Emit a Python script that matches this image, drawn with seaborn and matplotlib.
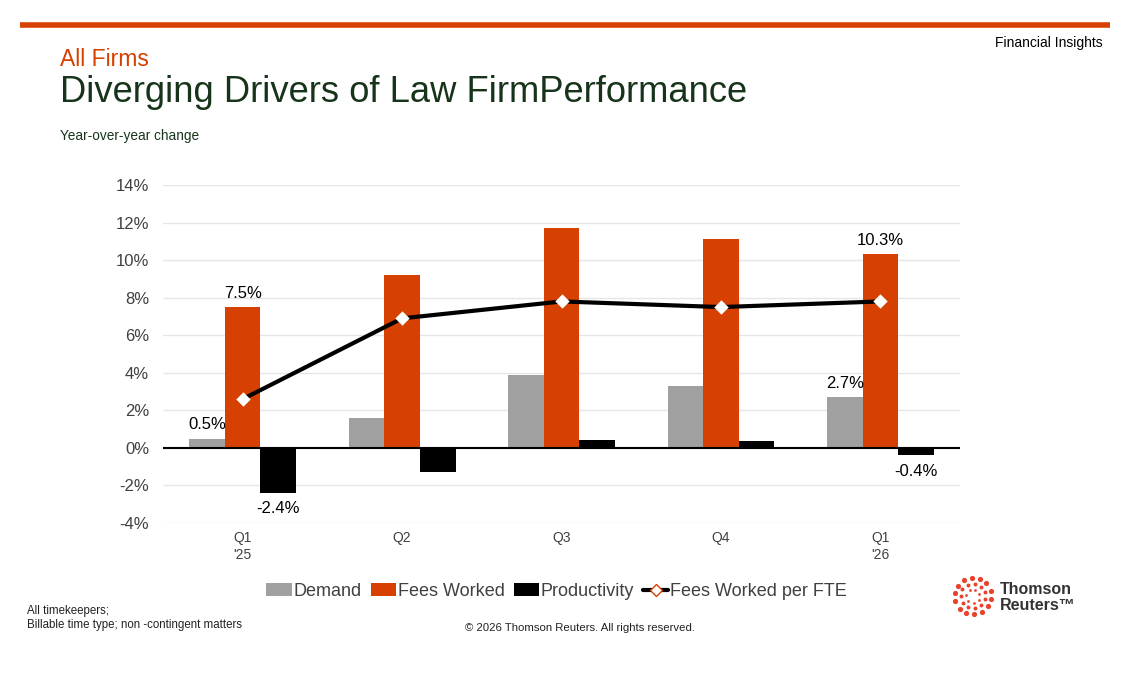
import pandas as pd
import numpy as np
import matplotlib.pyplot as plt
import seaborn as sns
from matplotlib.patches import Patch
from matplotlib.lines import Line2D
from matplotlib.ticker import FuncFormatter

quarters = ["Q1\n'25", "Q2", "Q3", "Q4", "Q1\n'26"]
demand = [0.5, 1.6, 3.9, 3.3, 2.7]
fees_worked = [7.5, 9.2, 11.7, 11.1, 10.3]
productivity = [-2.4, -1.3, 0.4, 0.35, -0.4]
fees_per_fte = [2.6, 6.9, 7.8, 7.5, 7.8]
series = ["Demand", "Fees Worked", "Productivity"]

orange = "#D64000"
gray = "#A0A0A0"
dark = "#17341A"
txt = "#404040"

df = pd.DataFrame({
    "quarter": quarters * 3,
    "series": np.repeat(series, len(quarters)),
    "value": demand + fees_worked + productivity,
})

sns.set_theme(style="white")
plt.rcParams["font.family"] = ["Liberation Sans", "DejaVu Sans"]

fig = plt.figure(figsize=(11.27, 6.76), dpi=100)
ax = fig.add_axes([0.1446, 0.2263, 0.7074, 0.5])

sns.barplot(data=df, x="quarter", y="value", hue="series",
            palette=[gray, orange, "black"], width=0.67, gap=0,
            ax=ax, legend=False, saturation=1, linewidth=0)
sns.pointplot(x=quarters, y=fees_per_fte, color="black", markers="D",
              linestyles="-", ax=ax, markerfacecolor="white",
              markeredgecolor="white", markersize=5, linewidth=3)

ax.set_xlim(-0.5, 4.5)
ax.set_ylim(-4, 14)
ax.set_yticks(range(-4, 15, 2))
ax.yaxis.set_major_formatter(FuncFormatter(lambda v, p: f"{v:.0f}%"))
ax.grid(axis="y", color="#E6E6E6", linewidth=1)
ax.set_axisbelow(True)
ax.axhline(0, color="black", linewidth=1.5, zorder=3)
for s in ax.spines.values():
    s.set_visible(False)
ax.tick_params(axis="both", length=0, colors=txt)
ax.tick_params(axis="y", labelsize=12, pad=10)
ax.tick_params(axis="x", labelsize=10, pad=6)
ax.set_xlabel("")
ax.set_ylabel("")

# data labels
bw = 0.67 / 3
labels = [
    (0 - bw, demand[0], f"{demand[0]}%", "bottom"),
    (0, fees_worked[0], f"{fees_worked[0]}%", "bottom"),
    (0 + bw, productivity[0], f"{productivity[0]}%", "top"),
    (4 - bw, demand[4], f"{demand[4]}%", "bottom"),
    (4, fees_worked[4], f"{fees_worked[4]}%", "bottom"),
    (4 + bw, productivity[4], f"{productivity[4]}%", "top"),
]
for x, y, t, va in labels:
    off = 0.35 if va == "bottom" else -0.45
    ax.text(x, y + off, t, ha="center", va=va, fontsize=12, color="black")

# legend
handles = [
    Patch(facecolor=gray, edgecolor="none"),
    Patch(facecolor=orange, edgecolor="none"),
    Patch(facecolor="black", edgecolor="none"),
    Line2D([0], [0], color="black", linewidth=3, marker="D",
           markerfacecolor="white", markeredgecolor=orange, markersize=6),
]
fig.legend(handles, ["Demand", "Fees Worked", "Productivity", "Fees Worked per FTE"],
           loc="center", bbox_to_anchor=(0.494, 0.125), ncol=4, frameon=False,
           fontsize=13, handlelength=1.4, handleheight=0.7, handletextpad=0.1,
           columnspacing=0.5, labelcolor=txt)

# header
fig.add_artist(plt.Line2D([20 / 1127, 1110 / 1127], [1 - 24.5 / 676] * 2,
                          color=orange, linewidth=4, solid_capstyle="butt"))
fig.text(60 / 1127, 1 - 60 / 676, "All Firms", color=orange, fontsize=16.5, va="center")
fig.text(60 / 1127, 1 - 92 / 676, "Diverging Drivers of Law FirmPerformance",
         color=dark, fontsize=26.2, va="center")
fig.text(60 / 1127, 1 - 136 / 676, "Year-over-year change", color=dark,
         fontsize=9.8, va="center")
fig.text(1103 / 1127, 1 - 43 / 676, "Financial Insights", color="black",
         fontsize=10, ha="right", va="center")

# footer
fig.text(27 / 1127, 1 - 611 / 676, "All timekeepers;", fontsize=8.3, color="#222222", va="center")
fig.text(27 / 1127, 1 - 625 / 676, "Billable time type; non -contingent matters",
         fontsize=8.3, color="#222222", va="center")
fig.text(580 / 1127, 1 - 628 / 676, "\u00a9 2026 Thomson Reuters. All rights reserved.",
         fontsize=8.2, color="#222222", ha="center", va="center")

# logo
lax = fig.add_axes([953 / 1127, 1 - 616 / 676, 40 / 1127, 40 / 676])
lax.set_xlim(-1, 1)
lax.set_ylim(-1, 1)
lax.set_aspect("equal")
lax.axis("off")
for r, n, sz in [(0.92, 14, 14), (0.62, 11, 8), (0.34, 7, 4)]:
    a = np.linspace(0, 2 * np.pi, n, endpoint=False) + 0.3
    lax.scatter(r * np.cos(a), r * np.sin(a), s=sz, color="#E8412C", linewidths=0)
fig.text(1000 / 1127, 1 - 590 / 676, "Thomson", fontsize=11.5, fontweight="bold",
         color="#333333", va="center")
fig.text(1000 / 1127, 1 - 605 / 676, "Reuters\u2122", fontsize=11.5, fontweight="bold",
         color="#333333", va="center")

fig.savefig("out.png", dpi=100)
